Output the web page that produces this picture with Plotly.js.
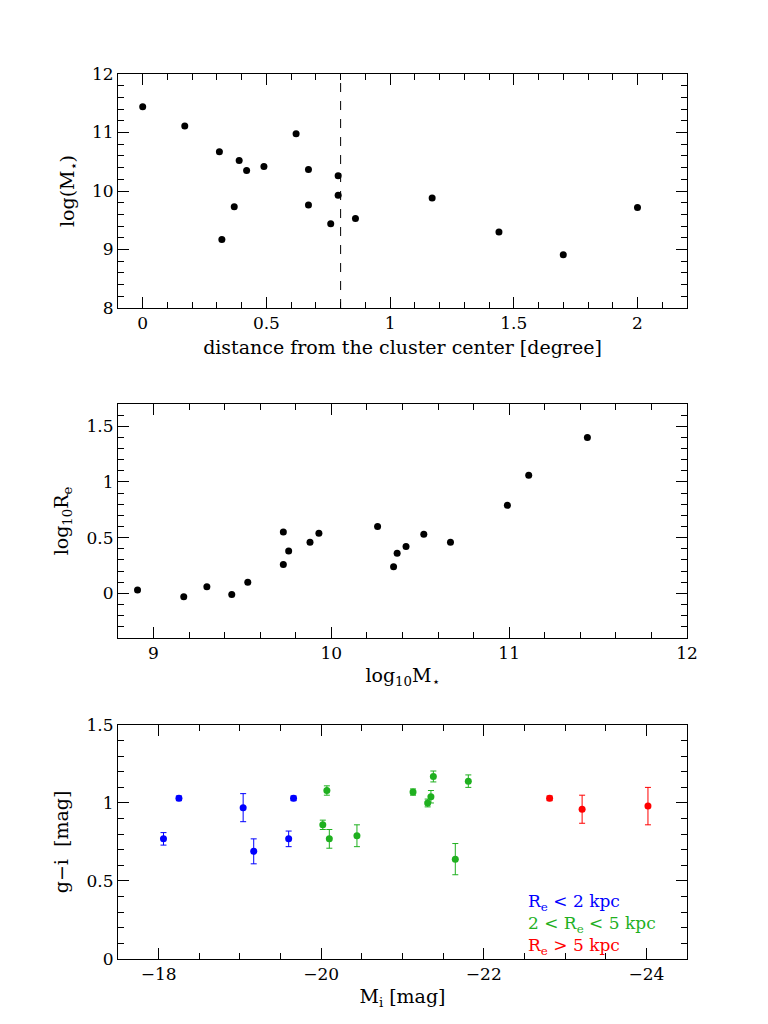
<!DOCTYPE html>
<html>
<head>
<meta charset="utf-8">
<script src="https://cdn.plot.ly/plotly-3.0.1.min.js"></script>
<style>
  html, body { margin: 0; padding: 0; background: #fff; }
  #grafica { width: 768px; height: 1024px; }
</style>
</head>
<body>
<div id="grafica"></div>
<script>
// panel 1: distancia al centro del cúmulo vs log(M*)
const distancia = [0.00, 0.17, 0.31, 0.39, 0.42, 0.49, 0.62, 0.67, 0.79, 0.79,
                   0.67, 0.37, 0.32, 0.76, 0.86, 1.17, 1.44, 1.70, 2.00];
const logMasa = [11.44, 11.11, 10.67, 10.52, 10.35, 10.42, 10.98, 10.37, 10.26, 9.93,
                 9.76, 9.73, 9.17, 9.44, 9.53, 9.88, 9.30, 8.91, 9.72];
const corte = 0.8; // línea discontinua

// panel 2: log10 M* vs log10 Re
const masaRe = [8.91, 9.17, 9.30, 9.44, 9.53, 9.73, 9.73, 9.76, 9.88, 9.93,
                10.26, 10.35, 10.37, 10.42, 10.52, 10.67, 10.99, 11.11, 11.44];
const logRe = [0.03, -0.03, 0.06, -0.01, 0.10, 0.55, 0.26, 0.38, 0.46, 0.54,
               0.60, 0.24, 0.36, 0.42, 0.53, 0.46, 0.79, 1.06, 1.40];

// panel 3: Mi vs g-i, por tamaño
const MiChico = [-18.06, -18.25, -19.04, -19.17, -19.60, -19.66];
const giChico = [0.77, 1.03, 0.97, 0.69, 0.77, 1.03];
const errChico = [0.04, 0.015, 0.09, 0.08, 0.05, 0.015];

const MiMedio = [-20.07, -20.02, -20.10, -20.44, -21.13, -21.31, -21.35, -21.38, -21.65, -21.81];
const giMedio = [1.08, 0.86, 0.77, 0.79, 1.07, 1.00, 1.04, 1.17, 0.64, 1.14];
const errMedio = [0.03, 0.03, 0.06, 0.07, 0.02, 0.025, 0.04, 0.035, 0.10, 0.04];

const MiGrande = [-22.81, -23.21, -24.02];
const giGrande = [1.03, 0.96, 0.98];
const errGrande = [0.015, 0.09, 0.12];

const leyenda = ["R<sub>e</sub> < 2 kpc", "2 < R<sub>e</sub> < 5 kpc", "R<sub>e</sub> > 5 kpc"];

const azul = "#0000ff", verde = "#1fb01f", rojo = "#ff0000";
const fuente = "DejaVu Serif";

function eje(extra) {
    return Object.assign({
        showline: true, linecolor: "#000", linewidth: 1, mirror: "ticks",
        ticks: "inside", ticklen: 11, tickcolor: "#000", tickwidth: 1,
        showgrid: false, zeroline: false,
        tickfont: { family: fuente, size: 17, color: "#000" }
    }, extra);
}

function menores(d) {
    return { ticks: "inside", ticklen: 6, tickcolor: "#000", tickwidth: 1, showgrid: false, dtick: d };
}

function titulo(texto, standoff) {
    return { text: texto, font: { family: fuente, size: 19, color: "#000" }, standoff: standoff };
}

const puntos = { mode: "markers", type: "scatter", marker: { color: "#000", size: 7 }, showlegend: false };

function conError(x, y, e, color) {
    return {
        x, y, mode: "markers", type: "scatter", showlegend: false,
        marker: { color, size: 7 },
        error_y: { type: "data", array: e, visible: true, color, thickness: 1, width: 3 }
    };
}

const datos = [
    Object.assign({ x: distancia, y: logMasa, xaxis: "x", yaxis: "y" }, puntos),
    Object.assign({ x: masaRe, y: logRe, xaxis: "x2", yaxis: "y2" }, puntos),
    Object.assign(conError(MiChico, giChico, errChico, azul), { xaxis: "x3", yaxis: "y3" }),
    Object.assign(conError(MiMedio, giMedio, errMedio, verde), { xaxis: "x3", yaxis: "y3" }),
    Object.assign(conError(MiGrande, giGrande, errGrande, rojo), { xaxis: "x3", yaxis: "y3" })
];

const dom = [0.1536, 0.8945];

const layout = {
    width: 768, height: 1024,
    margin: { l: 0, r: 0, t: 0, b: 0 },
    paper_bgcolor: "#fff", plot_bgcolor: "#fff",
    font: { family: fuente, color: "#000" },
    showlegend: false,
    xaxis: eje({ domain: dom, anchor: "y", range: [-0.1, 2.2], dtick: 0.5, tick0: 0,
                 minor: menores(0.1),
                 title: titulo("distance from the cluster center [degree]", 8) }),
    yaxis: eje({ domain: [0.6992, 0.9277], anchor: "x", range: [8, 12], dtick: 1,
                 minor: menores(0.2),
                 title: titulo("log(M<sub>⋆</sub>)", 12) }),
    xaxis2: eje({ domain: dom, anchor: "y2", range: [8.8, 12], dtick: 1,
                  minor: menores(0.2),
                  title: titulo("log<sub>10</sub>M<sub>⋆</sub>", 6) }),
    yaxis2: eje({ domain: [0.3770, 0.6055], anchor: "x2", range: [-0.4, 1.7], dtick: 0.5, tick0: 0,
                  minor: menores(0.1),
                  title: titulo("log<sub>10</sub>R<sub>e</sub>", 12) }),
    xaxis3: eje({ domain: dom, anchor: "y3", range: [-17.5, -24.5], dtick: 2, tick0: 0,
                  tickformat: "d",
                  minor: menores(0.5),
                  title: titulo("M<sub>i</sub> [mag]", 6) }),
    yaxis3: eje({ domain: [0.0635, 0.2920], anchor: "x3", range: [0, 1.5], dtick: 0.5, tick0: 0,
                  minor: menores(0.1),
                  title: titulo("g−i  [mag]", 12) }),
    shapes: [{
        type: "line", xref: "x", yref: "y domain", x0: corte, x1: corte, y0: 0, y1: 1,
        line: { color: "#000", width: 1, dash: "dash" }
    }],
    annotations: [{
        text: [azul, verde, rojo].map((c, i) => `<span style="color:${c}">${leyenda[i]}</span>`).join("<br>"),
        xref: "paper", yref: "paper", x: 526 / 768, y: 1 - 889 / 1024,
        xanchor: "left", yanchor: "top", align: "left", showarrow: false,
        font: { family: fuente, size: 17, color: "#000" }
    }]
};

Plotly.newPlot("grafica", datos, layout, { staticPlot: true });
</script>
</body>
</html>
